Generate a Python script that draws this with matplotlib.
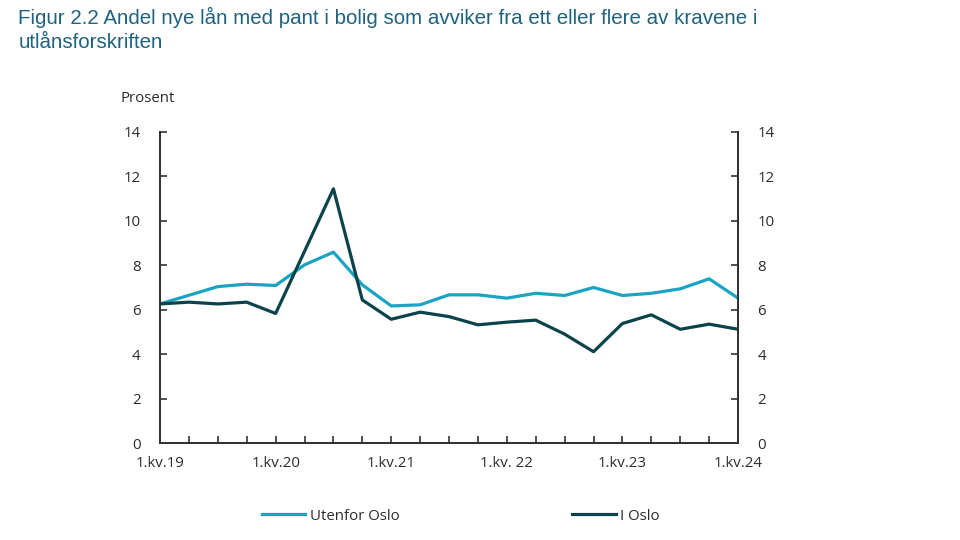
import matplotlib.pyplot as plt

# kvartaler fra 1.kv.19 til 1.kv.24
quarters = list(range(21))
tick_pos = [0, 4, 8, 12, 16, 20]
tick_labels = ["1.kv.19", "1.kv.20", "1.kv.21", "1.kv. 22", "1.kv.23", "1.kv.24"]

utenfor_oslo = [6.26, 6.65, 7.04, 7.15, 7.09, 8.02, 8.59, 7.12, 6.17, 6.22,
                6.67, 6.67, 6.52, 6.74, 6.64, 7.0, 6.64, 6.74, 6.94, 7.39, 6.52]
i_oslo = [6.26, 6.34, 6.26, 6.34, 5.83, 8.63, 11.44, 6.44, 5.57, 5.89,
          5.69, 5.32, 5.44, 5.53, 4.9, 4.11, 5.38, 5.77, 5.12, 5.35, 5.12]

light = "#1ba3c3"
dark = "#0c434b"
axis_col = "#333333"
text_col = "#2b2b2b"
fs = 10.8

fig = plt.figure(figsize=(9.6, 5.4), dpi=100)
ax = fig.add_axes([0.1667, 0.1796, 0.6021, 0.5760])

ax.plot(quarters, utenfor_oslo, color=light, lw=2.3, label="Utenfor Oslo")
ax.plot(quarters, i_oslo, color=dark, lw=2.3, label="I Oslo")

ax.set_xlim(0, 20)
ax.set_ylim(0, 14)
ax.set_yticks(range(0, 15, 2))
ax.set_xticks(quarters)
ax.set_xticklabels([tick_labels[tick_pos.index(q)] if q in tick_pos else "" for q in quarters])

for s in ["left", "bottom", "right"]:
    ax.spines[s].set_color(axis_col)
    ax.spines[s].set_linewidth(1.4)
ax.spines["top"].set_visible(False)

ax.tick_params(axis="x", direction="in", length=5, width=1.2, color=axis_col,
               labelsize=fs, labelcolor=text_col, pad=9)
ax.tick_params(axis="y", direction="in", length=5, width=1.2, color=axis_col,
               labelsize=fs, labelcolor=text_col, pad=14)
for lab in ax.get_xticklabels() + ax.get_yticklabels():
    lab.set_family("Open Sans")

ax2 = ax.twinx()
ax2.set_ylim(0, 14)
ax2.set_yticks(range(0, 15, 2))
ax2.tick_params(axis="y", direction="in", length=5, width=1.2, color=axis_col,
                labelsize=fs, labelcolor=text_col, pad=14)
for lab in ax2.get_yticklabels():
    lab.set_family("Open Sans")
for s in ["left", "bottom", "right"]:
    ax2.spines[s].set_color(axis_col)
    ax2.spines[s].set_linewidth(1.4)
ax2.spines["top"].set_visible(False)

fig.text(0.125, 0.818, "Prosent", fontsize=fs, color=text_col,
         family="Open Sans", va="center", ha="left")

fig.text(0.019, 0.987, "Figur 2.2 Andel nye lån med pant i bolig som avviker fra ett eller flere av kravene i\nutlånsforskriften",
         fontsize=14.8, color="#1d6280", family="Liberation Sans", va="top", ha="left",
         linespacing=1.3)

leg = fig.legend(loc="center", bbox_to_anchor=(0.48, 0.044), ncol=2, frameon=False,
                 handlelength=2.9, handletextpad=0.3, columnspacing=11.5,
                 prop={"family": "Open Sans", "size": fs})
for t in leg.get_texts():
    t.set_color(text_col)

fig.savefig("out.png", dpi=100)
